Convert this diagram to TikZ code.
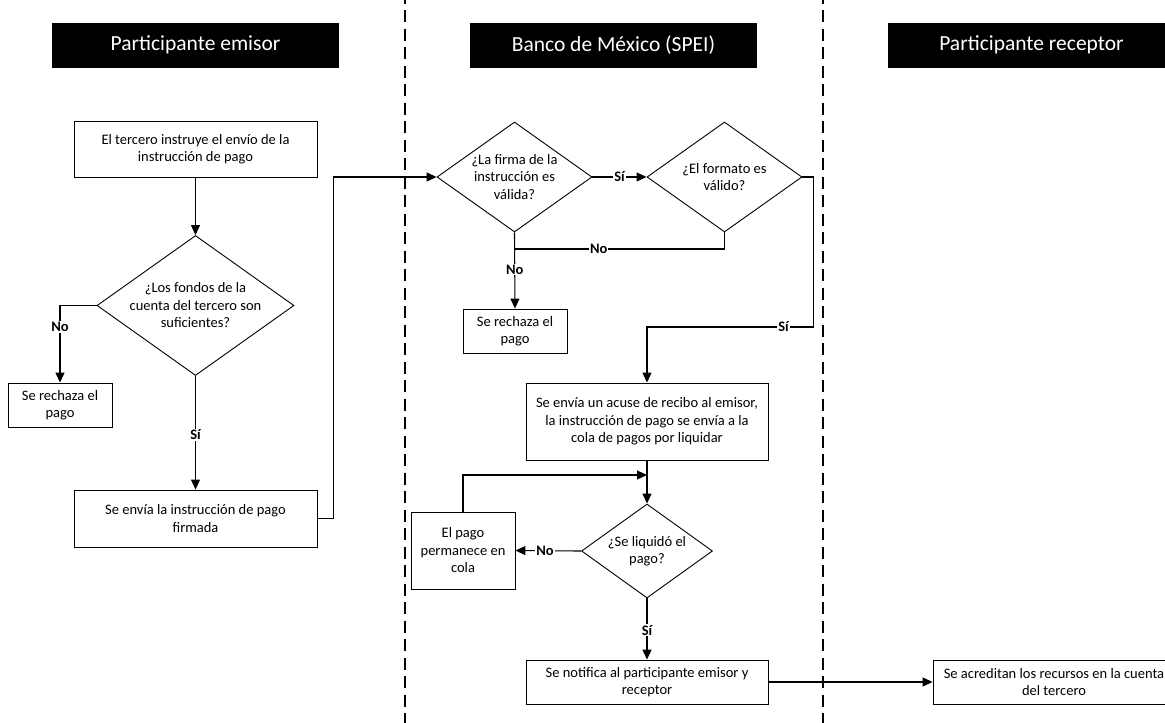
\documentclass[tikz,border=0pt]{standalone}
\usepackage{fontspec}
\setmainfont{Carlito}
\usetikzlibrary{shapes.geometric,arrows.meta,calc}
\begin{document}
\begin{tikzpicture}[x=1pt,y=-1pt,
  box/.style={draw, line width=0.9pt, fill=white, align=center, inner sep=1pt, font=\fontsize{14.5}{17.5}\selectfont},
  dec/.style={diamond, aspect=1.4, draw, line width=0.9pt, fill=white, align=center, inner sep=-6pt, font=\fontsize{14.5}{17.5}\selectfont},
  hdr/.style={fill=black, text=white, minimum width=287pt, minimum height=45pt, inner sep=0pt, font=\fontsize{21.5}{25}\selectfont},
  arr/.style={line width=1.1pt, -{Triangle[length=10pt,width=9pt]}},
  conn/.style={line width=1.1pt},
  lbl/.style={fill=white, inner sep=1pt, font=\bfseries\fontsize{14.5}{16}\selectfont},
  lane/.style={line width=1.2pt, dash pattern=on 12pt off 6.5pt, dash phase=8.5pt}
]
\useasboundingbox (0,0) rectangle (1165,723);
\clip (0,0) rectangle (1165,723);

% swimlane separators
\draw[lane] (405,0) -- (405,723);
\draw[lane] (823,0) -- (823,723);

% headers
\node[hdr] (h1) at (195.5,45) {Participante emisor};
\node[hdr] (h2) at (613.5,45) {Banco de México (SPEI)};
\node[hdr] (h3) at (1031.5,45) {Participante receptor};

% left lane
\node[box, minimum width=243pt, minimum height=56pt] (A) at (195.5,149) {El tercero instruye el envío de la\\instrucción de pago};
\node[dec, minimum width=197pt, minimum height=140pt] (D1) at (195.5,305.5) {¿Los fondos de la\\cuenta del tercero son\\suficientes?};
\node[box, minimum width=104pt, minimum height=44pt] (R1) at (60,405) {Se rechaza el\\pago};
\node[box, minimum width=243pt, minimum height=57pt] (S1) at (195.5,518.5) {Se envía la instrucción de pago\\firmada};

% middle lane
\node[dec, minimum width=155pt, minimum height=110pt] (D2) at (514.5,177) {¿La firma de la\\instrucción es\\válida?};
\node[dec, minimum width=155pt, minimum height=110pt] (D3) at (724.5,177) {¿El formato es\\válido?};
\node[box, minimum width=104pt, minimum height=44pt] (R2) at (515,331) {Se rechaza el\\pago};
\node[box, minimum width=242pt, minimum height=77pt] (B) at (647,421.5) {Se envía un acuse de recibo al emisor,\\la instrucción de pago se envía a la\\cola de pagos por liquidar};
\node[dec, minimum width=131pt, minimum height=94pt] (D4) at (647,551) {¿Se liquidó el\\pago?};
\node[box, minimum width=104pt, minimum height=77pt] (Q) at (463,550.5) {El pago\\permanece en\\cola};
\node[box, minimum width=242pt, minimum height=44pt] (N) at (647,682) {Se notifica al participante emisor y\\receptor};

% right lane
\node[box, minimum width=242pt, minimum height=44pt] (C) at (1054,682) {Se acreditan los recursos en la cuenta\\del tercero};

% helper coordinates
\coordinate (j) at (515,249);
\coordinate (k) at (647,327);
\coordinate (m) at (647,475);

% connectors
\draw[arr] (A.south) -- (D1.north);
\draw[arr] (D1.west) -| node[lbl,pos=0.64]{No} (R1.north);
\draw[arr] (D1.south) -- node[lbl,pos=0.52]{Sí} (S1.north);
\draw[arr] (S1.east) -- ++(16,0) |- (D2.west);
\draw[arr] (D2.east) -- node[lbl]{Sí} (D3.west);
\draw[conn] (D3.south) |- node[lbl,pos=0.8]{No} (j);
\draw[arr] (D2.south) -- node[lbl,pos=0.49]{No} (R2.north);
\draw[arr] (D3.east) -- ++(11,0) |- node[lbl,pos=0.59]{Sí} (k) -- (B.north);
\draw[arr] (B.south) -- (D4.north);
\draw[arr] (D4.west) -- node[lbl,pos=0.55]{No} (Q.east);
\draw[arr] (Q.north) |- (m);
\draw[arr] (D4.south) -- node[lbl,pos=0.52]{Sí} (N.north);
\draw[arr] (N.east) -- (C.west);
\end{tikzpicture}
\end{document}
